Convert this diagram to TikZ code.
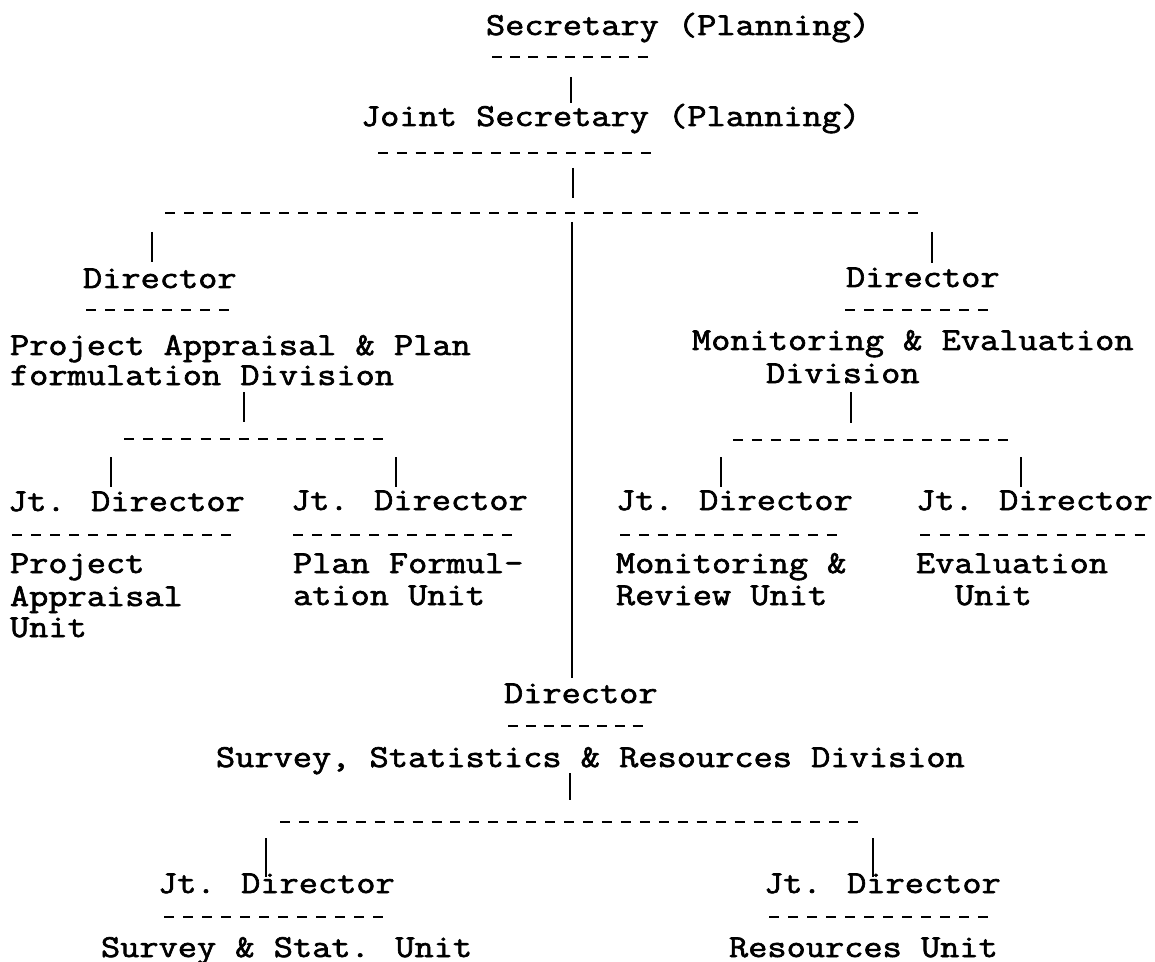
\documentclass[tikz,border=0pt]{standalone}
\usepackage{fontspec}
\newfontfamily\twfont{Latin Modern Mono}[FakeStretch=1.165,FakeBold=2]
\begin{document}
\begin{tikzpicture}[x=0.5pt,y=-0.5pt,
  txt/.style={anchor=base west,inner sep=0pt,outer sep=0pt,font=\twfont\fontsize{16}{16}\selectfont},
  hl/.style={line width=1.2pt,dash pattern=on 5pt off #1pt},
  hl/.default=4.5,
  bar/.style={line width=1.1pt}]
\useasboundingbox (0,0) rectangle (1155,962);
% ---------------- texts ----------------
\node[txt] (sec)  at (486,35)  {Secretary (Planning)};
\node[txt] (jsec) at (361,126) {Joint Secretary (Planning)};
\node[txt] (dirL) at (83,288)  {Director};
\node[txt] (dirR) at (846,287) {Director};
\node[txt] (paL1) at (10,355)  {Project Appraisal \& Plan};
\node[txt] (paL2) at (10,385)  {formulation Division};
\node[txt] (meR1) at (692,350) {Monitoring \& Evaluation};
\node[txt] (meR2) at (766,383) {Division};
\node[txt] (jd1)  at (8,511)   {Jt. Director};
\node[txt] (pa1)  at (10,573)  {Project};
\node[txt] (pa2)  at (10,606)  {Appraisal};
\node[txt] (pa3)  at (10,637)  {Unit};
\node[txt] (jd2)  at (291,510) {Jt. Director};
\node[txt] (pf1)  at (293,573) {Plan Formul-};
\node[txt] (pf2)  at (293,605) {ation Unit};
\node[txt] (jd3)  at (616,510) {Jt. Director};
\node[txt] (mr1)  at (616,573) {Monitoring \&};
\node[txt] (mr2)  at (616,605) {Review Unit};
\node[txt] (jd4)  at (916,510) {Jt. Director};
\node[txt] (ev1)  at (916,573) {Evaluation};
\node[txt] (ev2)  at (955,605) {Unit};
\node[txt] (dirB) at (504,703) {Director};
\node[txt] (ssr)  at (216,767) {Survey, Statistics \& Resources Division};
\node[txt] (jd5)  at (158,893) {Jt. Director};
\node[txt] (ss1)  at (101,957) {Survey \& Stat. Unit};
\node[txt] (jd6)  at (764,893) {Jt. Director};
\node[txt] (rs1)  at (729,957) {Resources Unit};
% ---------------- underlines ----------------
\draw[hl=4.1] (492,57) -- (648,57);
\draw[hl=4.4] (378,153) -- (652,153);
\draw[hl] (86,310) -- (231,310);
\draw[hl] (845,310) -- (990,310);
\draw[hl] (12,535) -- (232,535);
\draw[hl] (293,535) -- (514,535);
\draw[hl=4.4] (620,535) -- (837,535);
\draw[hl=4.75] (920,535) -- (1145,535);
\draw[hl=3.9] (508,726) -- (647,726);
\draw[hl] (164,917) -- (383,917);
\draw[hl] (769,917) -- (989,917);
% ---------------- junction coordinates ----------------
\coordinate (b1t) at (571,77);  \coordinate (b1b) at (571,103);
\coordinate (b2t) at (573,168); \coordinate (b2b) at (573,198);
\coordinate (h1a) at (165,213); \coordinate (h1b) at (918,213);
\coordinate (lt) at (152,232);  \coordinate (lb) at (152,262);
\coordinate (rt) at (932,232);  \coordinate (rb) at (932,263);
\coordinate (ct) at (572,222);  \coordinate (cb) at (572,678);
\coordinate (b3t) at (244,392); \coordinate (b3b) at (244,422);
\coordinate (h2a) at (124,439); \coordinate (h2b) at (383,439);
\coordinate (l1t) at (111,457); \coordinate (l1b) at (111,487);
\coordinate (l2t) at (396,457); \coordinate (l2b) at (396,487);
\coordinate (b4t) at (851,392); \coordinate (b4b) at (851,423);
\coordinate (h3a) at (733,440); \coordinate (h3b) at (1008,440);
\coordinate (r1t) at (721,457); \coordinate (r1b) at (721,487);
\coordinate (r2t) at (1021,457); \coordinate (r2b) at (1021,487);
\coordinate (b5t) at (570,773); \coordinate (b5b) at (570,800);
\coordinate (h4a) at (280,822); \coordinate (h4b) at (858,822);
\coordinate (s1t) at (266,838); \coordinate (s1b) at (266,877);
\coordinate (s2t) at (873,838); \coordinate (s2b) at (873,877);
% ---------------- connectors ----------------
\draw[bar] (b1t) -- (b1b);
\draw[bar] (b2t) -- (b2b);
\draw[hl=4.53] (h1a) -- (h1b);
\draw[bar] (lt) -- (lb);
\draw[bar] (rt) -- (rb);
\draw[bar] (ct) -- (cb);
\draw[bar] (b3t) -- (b3b);
\draw[hl=4.58] (h2a) -- (h2b);
\draw[bar] (l1t) -- (l1b);
\draw[bar] (l2t) -- (l2b);
\draw[bar] (b4t) -- (b4b);
\draw[hl=4.46] (h3a) -- (h3b);
\draw[bar] (r1t) -- (r1b);
\draw[bar] (r2t) -- (r2b);
\draw[bar] (b5t) -- (b5b);
\draw[hl=4.47] (h4a) -- (h4b);
\draw[bar] (s1t) -- (s1b);
\draw[bar] (s2t) -- (s2b);
\end{tikzpicture}
\end{document}
